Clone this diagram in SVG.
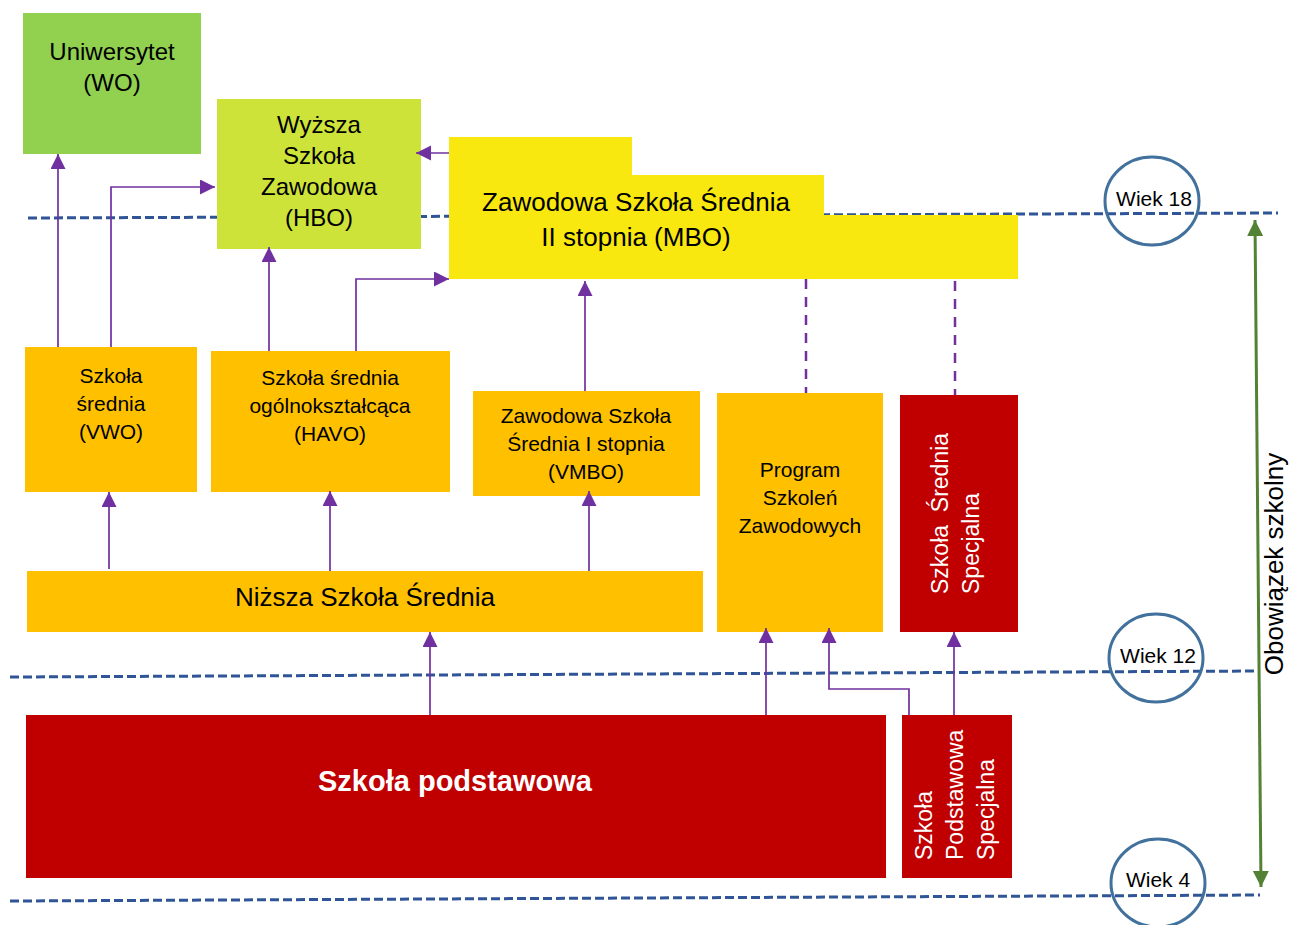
<svg xmlns="http://www.w3.org/2000/svg" width="1291" height="925" viewBox="0 0 1291 925">
<style>
.t{font-family:"Liberation Sans",Arial,sans-serif;fill:#000}
.w{fill:#fff}
.blue{stroke:#2F5597;stroke-width:3;stroke-dasharray:9 4;fill:none}
.circ{stroke:#41719C;stroke-width:3;fill:none}
.c{stroke:#7030A0;stroke-width:1.7;fill:none}
.cd{stroke:#7030A0;stroke-width:2.5;stroke-dasharray:10 8;fill:none}
.or{fill:#FFC000}
.rd{fill:#C00000}
</style>
<defs>
<marker id="ah" markerUnits="userSpaceOnUse" markerWidth="16" markerHeight="16" refX="15" refY="7.5" orient="auto"><path d="M0,0 L15,7.5 L0,15 z" fill="#7030A0"/></marker>
<marker id="gh" markerUnits="userSpaceOnUse" markerWidth="17" markerHeight="17" refX="16" refY="8" orient="auto-start-reverse"><path d="M0,0 L16,8 L0,16 z" fill="#548235"/></marker>
</defs>
<g id="age-lines">
<line class="blue" x1="28" y1="218" x2="1278" y2="213"/>
<line class="blue" x1="10" y1="677" x2="1258" y2="671"/>
<line class="blue" x1="10" y1="901" x2="1260" y2="895"/>
</g>
<g id="uniwersytet">
<rect x="23" y="13" width="178" height="141" fill="#92D050"/>
<text class="t" font-size="24" text-anchor="middle" x="112" y="60">Uniwersytet</text>
<text class="t" font-size="24" text-anchor="middle" x="112" y="91">(WO)</text>
</g>
<g id="hbo">
<rect x="217" y="99" width="204" height="150" fill="#CDE33A"/>
<text class="t" font-size="24" text-anchor="middle" x="319" y="133">Wyższa</text>
<text class="t" font-size="24" text-anchor="middle" x="319" y="164">Szkoła</text>
<text class="t" font-size="24" text-anchor="middle" x="319" y="195">Zawodowa</text>
<text class="t" font-size="24" text-anchor="middle" x="319" y="226">(HBO)</text>
</g>
<g id="mbo">
<polygon points="449,137 632,137 632,175 824,175 824,215 1018,215 1018,279 449,279" fill="#F8E80F"/>
<text class="t" font-size="26" text-anchor="middle" x="636" y="211">Zawodowa Szkoła Średnia</text>
<text class="t" font-size="26" text-anchor="middle" x="636" y="246">II stopnia (MBO)</text>
</g>
<g id="vwo">
<rect class="or" x="25" y="347" width="172" height="145"/>
<text class="t" font-size="21" text-anchor="middle" x="111" y="383">Szkoła</text>
<text class="t" font-size="21" text-anchor="middle" x="111" y="411">średnia</text>
<text class="t" font-size="21" text-anchor="middle" x="111" y="439">(VWO)</text>
</g>
<g id="havo">
<rect class="or" x="211" y="351" width="239" height="141"/>
<text class="t" font-size="21" text-anchor="middle" x="330" y="385">Szkoła średnia</text>
<text class="t" font-size="21" text-anchor="middle" x="330" y="413">ogólnokształcąca</text>
<text class="t" font-size="21" text-anchor="middle" x="330" y="441">(HAVO)</text>
</g>
<g id="vmbo">
<rect class="or" x="473" y="391" width="227" height="105"/>
<text class="t" font-size="21" text-anchor="middle" x="586" y="423">Zawodowa Szkoła</text>
<text class="t" font-size="21" text-anchor="middle" x="586" y="451">Średnia I stopnia</text>
<text class="t" font-size="21" text-anchor="middle" x="586" y="479">(VMBO)</text>
</g>
<g id="nizsza">
<rect class="or" x="27" y="571" width="676" height="61"/>
<text class="t" font-size="26" text-anchor="middle" x="365" y="606">Niższa Szkoła Średnia</text>
</g>
<g id="program">
<rect class="or" x="717" y="393" width="166" height="239"/>
<text class="t" font-size="21" text-anchor="middle" x="800" y="477">Program</text>
<text class="t" font-size="21" text-anchor="middle" x="800" y="505">Szkoleń</text>
<text class="t" font-size="21" text-anchor="middle" x="800" y="533">Zawodowych</text>
</g>
<g id="srednia-specjalna">
<rect class="rd" x="900" y="395" width="118" height="237"/>
<text class="t w" font-size="23" transform="translate(948,594) rotate(-90)" xml:space="preserve">Szkoła  Średnia</text>
<text class="t w" font-size="23" transform="translate(979,594) rotate(-90)">Specjalna</text>
</g>
<g id="podstawowa">
<rect class="rd" x="26" y="715" width="860" height="163"/>
<text class="t w" font-size="29" font-weight="bold" text-anchor="middle" x="455" y="791">Szkoła podstawowa</text>
</g>
<g id="podstawowa-specjalna">
<rect class="rd" x="902" y="715" width="110" height="163"/>
<text class="t w" font-size="23" transform="translate(932,860) rotate(-90)">Szkoła</text>
<text class="t w" font-size="23" transform="translate(963,860) rotate(-90)">Podstawowa</text>
<text class="t w" font-size="23" transform="translate(994,860) rotate(-90)">Specjalna</text>
</g>
<g id="wiek-18">
<ellipse class="circ" cx="1152" cy="201" rx="47" ry="44"/>
<text class="t" font-size="21" text-anchor="middle" x="1154" y="206">Wiek 18</text>
</g>
<g id="wiek-12">
<ellipse class="circ" cx="1156" cy="658" rx="47" ry="44"/>
<text class="t" font-size="21" text-anchor="middle" x="1158" y="663">Wiek 12</text>
</g>
<g id="wiek-4">
<ellipse class="circ" cx="1158" cy="883" rx="47" ry="44"/>
<text class="t" font-size="21" text-anchor="middle" x="1158" y="887">Wiek 4</text>
</g>
<g id="obowiazek">
<text class="t" font-size="26" text-anchor="middle" transform="translate(1283,564) rotate(-90)">Obowiązek szkolny</text>
</g>
<g id="connectors">
<line x1="1255" y1="220" x2="1261" y2="887" stroke="#548235" stroke-width="3" marker-start="url(#gh)" marker-end="url(#gh)"/>
<path class="c" d="M58,347 V154" marker-end="url(#ah)"/>
<path class="c" d="M111,347 V187 H215" marker-end="url(#ah)"/>
<path class="c" d="M269,351 V247" marker-end="url(#ah)"/>
<path class="c" d="M356,351 V279 H449" marker-end="url(#ah)"/>
<path class="c" d="M449,153 H416" marker-end="url(#ah)"/>
<path class="c" d="M585,391 V281" marker-end="url(#ah)"/>
<path class="c" d="M109,569 V492" marker-end="url(#ah)"/>
<path class="c" d="M330,571 V491" marker-end="url(#ah)"/>
<path class="c" d="M589,571 V491" marker-end="url(#ah)"/>
<path class="c" d="M430,715 V632" marker-end="url(#ah)"/>
<path class="c" d="M766,715 V628" marker-end="url(#ah)"/>
<path class="c" d="M909,715 V689 H829 V628" marker-end="url(#ah)"/>
<path class="c" d="M954,715 V632" marker-end="url(#ah)"/>
<path class="cd" d="M806,279 V393"/>
<path class="cd" d="M955,281 V395"/>
</g>
</svg>
